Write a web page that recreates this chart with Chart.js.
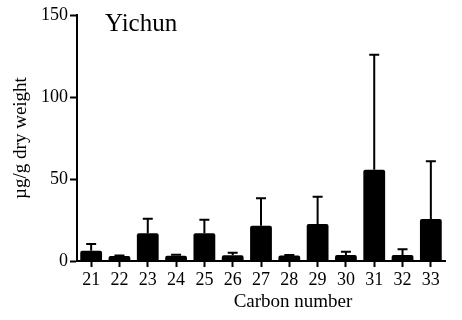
<!DOCTYPE html>
<html lang="en">
<head>
  <meta charset="UTF-8">
  <title>Yichun - carbon number</title>
  <style>
    html, body { margin: 0; padding: 0; background: #fff; }
    .chart-container { width: 462px; height: 320px; }
  </style>
  <script src="https://cdn.jsdelivr.net/npm/chart.js"></script>
</head>
<body>
<div class="chart-container"><canvas class="chart" width="462" height="320"></canvas></div>
<script>
  // values
  const carbon = ['21', '22', '23', '24', '25', '26', '27', '28', '29', '30', '31', '32', '33'];
  const means = [6.3, 3.0, 16.9, 3.2, 16.9, 3.5, 21.5, 3.3, 22.6, 3.7, 55.7, 3.7, 25.6];
  const sd = [4.0, 0.3, 8.9, 0.6, 8.3, 1.5, 16.7, 0.4, 16.6, 2.0, 70.1, 3.4, 35.2];
  const yTicks = [0, 50, 100, 150];

  const serif = 'Liberation Serif';

  // upward error bars, drawn from the y scale
  const errorBars = {
    id: 'errorBars',
    afterDatasetsDraw(chart) {
      const ctx = chart.ctx;
      const y = chart.scales.y;
      const meta = chart.getDatasetMeta(0);
      ctx.save();
      ctx.strokeStyle = '#000';
      ctx.lineWidth = 2;
      meta.data.forEach((bar, i) => {
        const top = y.getPixelForValue(means[i] + sd[i]);
        ctx.beginPath();
        ctx.moveTo(bar.x, bar.y);
        ctx.lineTo(bar.x, top);
        ctx.moveTo(bar.x - 5, top);
        ctx.lineTo(bar.x + 5, top);
        ctx.stroke();
      });
      ctx.restore();
    }
  };

  const labels = {
    id: 'labels',
    afterDraw(chart) {
      const ctx = chart.ctx;
      const area = chart.chartArea;
      ctx.save();
      ctx.fillStyle = '#000';
      ctx.textBaseline = 'alphabetic';
      ctx.font = '25px "' + serif + '"';
      ctx.textAlign = 'left';
      ctx.fillText('Yichun', area.left + 28, 31);
      ctx.font = '19px "' + serif + '"';
      ctx.textAlign = 'center';
      ctx.fillText('Carbon number', 293, 307);
      ctx.restore();
    }
  };

  new Chart(document.querySelector('.chart'), {
    type: 'bar',
    data: {
      labels: carbon,
      datasets: [{
        data: means,
        backgroundColor: '#000',
        borderWidth: 0,
        borderRadius: 2,
        borderSkipped: 'bottom',
        barPercentage: 0.77,
        categoryPercentage: 1
      }]
    },
    plugins: [errorBars, labels],
    options: {
      responsive: false,
      animation: false,
      layout: { padding: { left: 0, top: 15, right: 17, bottom: 0 } },
      plugins: {
        legend: { display: false },
        tooltip: { enabled: false }
      },
      scales: {
        x: {
          offset: true,
          grid: { display: true, offset: false, drawOnChartArea: false, tickLength: 6, tickWidth: 2, color: '#000' },
          border: { display: true, color: '#000', width: 2 },
          ticks: { color: '#000', padding: 2, font: { family: serif, size: 18 } },
          afterFit(scale) { scale.height = 59; }
        },
        y: {
          min: 0,
          max: 150,
          afterBuildTicks(scale) { scale.ticks = yTicks.map(v => ({ value: v })); },
          grid: { display: true, drawOnChartArea: false, tickLength: 7, tickWidth: 2, color: '#000' },
          border: { display: true, color: '#000', width: 2 },
          ticks: { color: '#000', padding: 2, font: { family: serif, size: 18 } },
          title: {
            display: true,
            text: 'µg/g dry weight',
            color: '#000',
            font: { family: serif, size: 19 },
            padding: { top: 10, bottom: 0 }
          },
          afterFit(scale) { scale.width = 77; }
        }
      }
    }
  });
</script>
</body>
</html>
